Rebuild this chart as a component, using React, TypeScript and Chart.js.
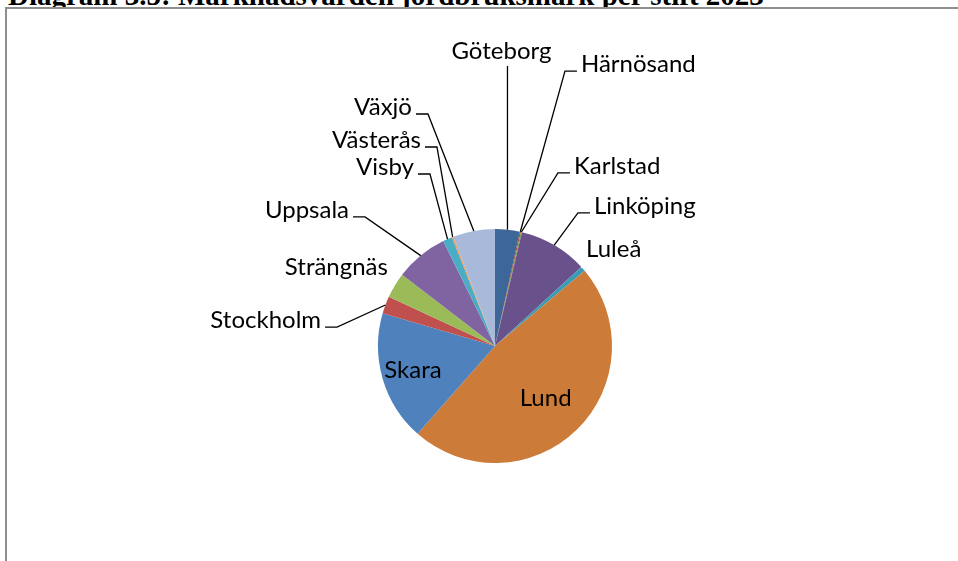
import React, { useEffect, useRef } from 'react';
import { Chart, registerables } from 'chart.js';

Chart.register(...registerables);

const titleText = 'Diagram 3.5: Marknadsvärden jordbruksmark per stift 2023';

const categories = [
  'Göteborg', 'Härnösand', 'Karlstad', 'Linköping', 'Luleå', 'Lund', 'Skara',
  'Stockholm', 'Strängnäs', 'Uppsala', 'Visby', 'Västerås', 'Växjö',
];
const values = [3.4, 0.15, 0.15, 9.5, 0.7, 47.6, 18.0, 2.4, 3.5, 7.3, 1.3, 0.2, 5.8];
const colors = [
  '#3D6799', '#9E413E', '#7F9A48', '#69518B', '#3B9AB4', '#CC7B38', '#4F81BD',
  '#C0504D', '#9BBB59', '#8064A2', '#4BACC6', '#F79646', '#A8B9D9',
];

// Label placement, in units of the pie radius relative to the pie centre
type Layout = { mode: string; ex?: number; ey?: number; k?: number; dx?: number; align?: string };
const labelLayout: Layout[] = [
  { mode: 'top', ey: -2.393, dx: -6 },
  { mode: 'right', ex: 0.598, ey: -2.35 },
  { mode: 'right', ex: 0.538, ey: -1.479 },
  { mode: 'right', ex: 0.709, ey: -1.137 },
  { mode: 'free', ex: 0.778, ey: -0.761, align: 'left' },
  { mode: 'inside', k: 0.62 },
  { mode: 'inside', k: 0.73 },
  { mode: 'left', ex: -1.35, ey: -0.162 },
  { mode: 'free', ex: -0.915, ey: -0.607, align: 'right' },
  { mode: 'left', ex: -1.111, ey: -1.103 },
  { mode: 'left', ex: -0.556, ey: -1.47 },
  { mode: 'left', ex: -0.496, ey: -1.701 },
  { mode: 'left', ex: -0.573, ey: -1.983 },
];

const labelPlugin = {
  id: 'pieLabels',
  afterDatasetsDraw(chart: any) {
    const ctx = chart.ctx as CanvasRenderingContext2D;
    const meta = chart.getDatasetMeta(0);
    const labels = chart.data.labels as string[];
    ctx.save();
    ctx.font = '24px Lato';
    ctx.fillStyle = '#000';
    ctx.strokeStyle = '#000';
    ctx.lineWidth = 1.3;
    meta.data.forEach((arc: any, i: number) => {
      const p = arc.getProps(['x', 'y', 'startAngle', 'endAngle', 'outerRadius'], true);
      const R = p.outerRadius;
      const mid = (p.startAngle + p.endAngle) / 2;
      const px = p.x + R * Math.cos(mid);
      const py = p.y + R * Math.sin(mid);
      const L = labelLayout[i];
      const text = labels[i];
      if (L.mode === 'top') {
        const ey = p.y + (L.ey as number) * R;
        ctx.beginPath();
        ctx.moveTo(px, py);
        ctx.lineTo(px, ey);
        ctx.stroke();
        ctx.textAlign = 'center';
        ctx.textBaseline = 'alphabetic';
        ctx.fillText(text, px + (L.dx || 0), ey - 7);
      } else if (L.mode === 'right' || L.mode === 'left') {
        const dir = L.mode === 'right' ? 1 : -1;
        const ex = p.x + (L.ex as number) * R;
        const ey = p.y + (L.ey as number) * R;
        ctx.beginPath();
        ctx.moveTo(px, py);
        ctx.lineTo(ex, ey);
        ctx.lineTo(ex + dir * 12, ey);
        ctx.stroke();
        ctx.textAlign = dir === 1 ? 'left' : 'right';
        ctx.textBaseline = 'alphabetic';
        ctx.fillText(text, ex + dir * 16, ey + 1);
      } else if (L.mode === 'free') {
        ctx.textAlign = L.align as CanvasTextAlign;
        ctx.textBaseline = 'alphabetic';
        ctx.fillText(text, p.x + (L.ex as number) * R, p.y + (L.ey as number) * R);
      } else {
        const k = L.k as number;
        ctx.textAlign = 'center';
        ctx.textBaseline = 'middle';
        ctx.fillText(text, p.x + k * R * Math.cos(mid), p.y + k * R * Math.sin(mid));
      }
    });
    ctx.restore();
  },
};

export default function App() {
  const ref = useRef<HTMLCanvasElement>(null);
  useEffect(() => {
    if (!ref.current) return;
    const chart = new Chart(ref.current, {
      type: 'pie',
      data: {
        labels: categories,
        datasets: [
          {
            data: values,
            backgroundColor: colors,
            borderWidth: 0,
          },
        ],
      },
      options: {
        responsive: false,
        animation: false,
        layout: { padding: { left: 378, right: 346, top: 229, bottom: 98 } },
        plugins: {
          legend: { display: false },
          tooltip: { enabled: false },
          title: { display: false },
        },
      },
      plugins: [labelPlugin],
    });
    return () => chart.destroy();
  }, []);

  return (
    <div
      style={{
        position: 'fixed',
        left: 0,
        top: 0,
        width: 958,
        height: 561,
        overflow: 'hidden',
        background: '#fff',
      }}
    >
      <div
        style={{
          position: 'absolute',
          left: 8,
          top: -19.3,
          fontFamily: '"Liberation Serif", serif',
          fontWeight: 'bold',
          fontSize: 29,
          lineHeight: '29px',
          whiteSpace: 'nowrap',
          color: '#000',
        }}
      >
        {titleText}
      </div>
      <div
        style={{
          position: 'absolute',
          left: 5,
          top: 7,
          width: 2000,
          height: 2000,
          borderTop: '2px solid #8e8e8e',
          borderLeft: '2px solid #8e8e8e',
          background: '#fff',
        }}
      />
      <canvas
        ref={ref}
        width={958}
        height={561}
        style={{ position: 'absolute', left: 0, top: 0, width: 958, height: 561 }}
      />
    </div>
  );
}
